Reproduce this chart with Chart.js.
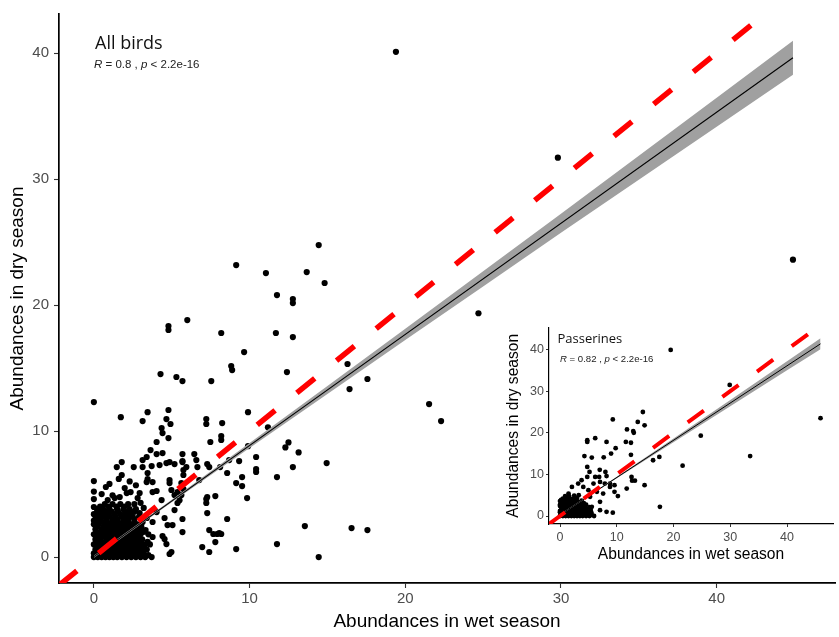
<!DOCTYPE html>
<html>
<head>
<meta charset="utf-8">
<script src="https://cdn.jsdelivr.net/npm/chart.js@4.4.1/dist/chart.umd.min.js"></script>
<style>
html,body{margin:0;padding:0;background:#fff;}
#wrap{position:relative;width:839px;height:637px;overflow:hidden;background:#fff;}
canvas{position:absolute;}
#main{left:0;top:0;width:839px;height:637px;}
#inset{left:495px;top:318px;width:344px;height:250px;}
.lbl{position:absolute;white-space:nowrap;line-height:1;color:#111;}
.big{font-family:"Open Sans","Noto Sans",sans-serif;}
.stat{font-family:"Liberation Sans",Arial,sans-serif;color:#222;}
</style>
</head>
<body>
<div id="wrap">
<canvas id="main" width="839" height="637"></canvas>
<canvas id="inset" width="344" height="250"></canvas>
<div class="lbl big" style="left:95px;top:33px;font-size:18px;">All birds</div>
<div class="lbl stat" style="left:94px;top:58.6px;font-size:11.5px;"><i>R</i> = 0.8 , <i>p</i> &lt; 2.2e-16</div>
<div class="lbl big" style="left:557.5px;top:332px;font-size:13px;">Passerines</div>
<div class="lbl stat" style="left:560px;top:353.6px;font-size:9.6px;"><i>R</i> = 0.82 , <i>p</i> &lt; 2.2e-16</div>
</div>
<script>
// ---------- DATA ----------
const xTickValues = [0, 10, 20, 30, 40];
const yTickValues = [0, 10, 20, 30, 40];

const mainXRange = [-2.24, 47.6];
const mainYRange = [-2.06, 43.1];
const insetXRange = [-1.94, 48.1];
const insetYRange = [-1.92, 45.3];

// All birds: [wet season, dry season]
const allBirds = [
[19.4,40.1],[29.8,31.7],[44.9,23.6],[14.44,24.76],[9.14,23.17],[11.05,22.54],[13.67,22.62],[14.82,21.75],[11.76,20.79],[12.78,20.48],[12.78,20.16],[24.7,19.35],[6.0,18.81],[4.79,18.33],[4.79,18.02],[8.18,17.78],[11.69,17.78],[12.78,17.46],[9.65,16.27],[16.29,15.32],[8.82,15.16],[8.88,14.84],[4.28,14.52],[5.3,14.29],[12.4,14.68],[17.57,14.13],[16.42,13.33],[5.69,13.97],[7.54,13.97],[21.53,12.14],[22.3,10.79],
[0,12.3],[1.73,11.1],[3.45,11.5],[3.13,10.79],[4.79,11.67],[4.66,10.95],[4.92,10.56],[4.35,10.24],[4.41,9.84],[4.79,9.44],[4.03,9.13],[3.64,8.49],[4.03,8.17],[4.41,8.25],[3.39,7.94],[3.13,7.7],
[9.9,11.5],[7.22,10.95],[7.22,10.56],[8.24,10.63],[11.18,10.3],[8.18,9.6],[8.18,9.29],[7.48,9.13],[12.5,9.1],[12.3,8.7],[13.15,8.3],[14.95,7.46],[5.69,8.17],[6.45,8.17],[6.58,7.7],[9.9,8.8],[10.42,7.94],[9.33,7.62],[5.69,7.62],[5.94,7.14],[7.28,7.38],[7.41,7.14],[6.65,7.14],[8.11,7.14],[8.69,7.7],[12.78,7.14],[10.42,6.98],[10.42,6.75],[5.75,6.51],[8.56,6.67],[9.52,6.35],[11.76,6.35],[9.14,5.87],[9.52,5.63],[5.62,5.87],[6.77,6.11],[5.75,5.4],[7.8,4.84],[7.22,4.6],[7.22,4.29],[9.84,4.68],[7.28,3.49],[8.56,3.02],[5.69,3.02],[7.41,2.14],[7.67,1.83],[7.92,1.83],[8.18,1.83],[5.69,1.98],[7.8,1.19],[6.96,0.79],[7.41,0.4],[9.14,0.63],[11.76,1.03],[13.55,2.46],[16.55,2.3],[17.57,2.14],[14.44,0],[7.28,4.76],[8.05,1.9],
[1.79,7.54],[1.47,7.14],[2.56,7.14],[3.13,7.14],[3.71,7.22],[4.22,7.3],[4.66,7.46],[5.18,7.38],[1.79,6.51],[3.45,6.67],[3.45,6.19],[3.77,5.95],[4.86,7.54],[5.69,7.54],[5.75,6.9],[4.86,6.11],[4.86,5.87],[4.03,5.24],[4.35,4.52],[5.18,4.92],[5.37,5.16],[2.94,5.08],[1.98,5.48],[2.11,5.08],[1.66,4.76],[1.34,4.68],[0.89,4.52],[0,3.97],[0.19,3.49],[2.81,4.68],[2.36,5.16],[0,6.03],[0.77,5.56],[3.39,5.95],[3.77,5.16],[4.98,5.32],[5.62,4.92],[5.37,4.29],[5.18,3.73],[4.54,3.1],[4.73,2.54],[5.05,2.54],[4.41,1.67],[4.54,1.43],[4.66,1.03],[4.98,0.4],[4.86,0.24],[3.71,0],[3.13,0.71],[3.77,1.59],[3.32,2.14],[3.77,2.78],[3.13,2.78],[4.03,3.57],[2.94,3.49],[5.5,4.5],
[0,0],[0.25,0],[0.5,0],[0.75,0],[1,0],[1.25,0],[1.5,0],[1.8,0],[2.1,0],[2.4,0],[2.7,0],[3,0],[3.3,0],
[0,0.3],[0.3,0.3],[0.6,0.3],[0.9,0.3],[1.2,0.3],[1.5,0.3],[1.8,0.3],[2.1,0.3],[2.5,0.3],[2.8,0.3],[3.2,0.3],
[0.1,0.6],[0.4,0.6],[0.7,0.6],[1,0.6],[1.3,0.6],[1.6,0.6],[2,0.6],[2.3,0.6],[2.6,0.6],[3,0.6],[3.4,0.6],
[0,1],[0.3,1],[0.6,1],[0.9,1],[1.2,1],[1.5,1],[1.9,1],[2.2,1],[2.5,1],[2.9,1],[3.3,1],[3.6,1],
[0.1,1.4],[0.4,1.4],[0.8,1.4],[1.1,1.4],[1.4,1.4],[1.7,1.4],[2,1.4],[2.4,1.4],[2.7,1.4],[3.1,1.4],
[0,1.8],[0.3,1.8],[0.6,1.8],[1,1.8],[1.3,1.8],[1.6,1.8],[2,1.8],[2.3,1.8],[2.6,1.8],[3,1.8],[3.5,1.8],
[0.1,2.2],[0.5,2.2],[0.8,2.2],[1.1,2.2],[1.5,2.2],[1.8,2.2],[2.1,2.2],[2.5,2.2],[2.9,2.2],
[0,2.6],[0.3,2.6],[0.7,2.6],[1,2.6],[1.4,2.6],[1.7,2.6],[2,2.6],[2.4,2.6],[2.8,2.6],
[0.1,3],[0.4,3],[0.8,3],[1.2,3],[1.5,3],[1.9,3],[2.2,3],[2.6,3],[3.4,3.1],
[0,3.4],[0.5,3.4],[0.9,3.4],[1.3,3.4],[1.7,3.4],[2,3.4],[2.4,3.4],
[0.2,3.8],[0.6,3.8],[1,3.8],[1.5,3.8],[1.9,3.8],[2.3,3.8],[2.7,3.8],[3.2,3.9],
[0.7,4.2],[1.2,4.2],[1.7,4.2],[2.2,4.2],[2.6,4.2],
[0,2.9],[0,4.6],[0.5,5.0],[1.0,5.8],[1.6,6.2],[2.3,6.0],[2.7,5.7],[1.2,4.9],[3.0,4.3],[0,5.2],
[0.15,0.15],[0.45,0.15],[0.75,0.15],[1.05,0.15],[1.35,0.15],[1.65,0.15],[1.95,0.15],[2.25,0.15],[2.55,0.15],[2.85,0.15],[3.15,0.15],[3.5,0.15],
[0.15,0.45],[0.45,0.45],[0.75,0.45],[1.05,0.45],[1.35,0.45],[1.65,0.45],[1.95,0.45],[2.3,0.45],[2.65,0.45],[3.0,0.45],
[0.2,0.8],[0.5,0.8],[0.85,0.8],[1.15,0.8],[1.45,0.8],[1.75,0.8],[2.1,0.8],[2.4,0.8],[2.75,0.8],[3.2,0.8],
[0.15,1.2],[0.45,1.2],[0.75,1.2],[1.05,1.2],[1.35,1.2],[1.7,1.2],[2.05,1.2],[2.35,1.2],[2.7,1.2],[3.0,1.2],[3.45,1.2],
[0.2,1.6],[0.5,1.6],[0.85,1.6],[1.2,1.6],[1.5,1.6],[1.85,1.6],[2.2,1.6],[2.5,1.6],[2.85,1.6],
[0.15,2.0],[0.45,2.0],[0.75,2.0],[1.05,2.0],[1.35,2.0],[1.65,2.0],[1.95,2.0],[2.3,2.0],[2.7,2.0],[3.2,2.0],
[0.2,2.4],[0.6,2.4],[0.9,2.4],[1.25,2.4],[1.6,2.4],[1.95,2.4],[2.25,2.4],[2.6,2.4],[3.05,2.4],
[0.15,2.8],[0.5,2.8],[0.85,2.8],[1.2,2.8],[1.55,2.8],[1.9,2.8],[2.2,2.8],[2.6,2.8],
[0.25,3.2],[0.6,3.2],[1.0,3.2],[1.4,3.2],[1.8,3.2],[2.15,3.2],[2.5,3.2],[2.9,3.2],
[0.3,3.6],[0.75,3.6],[1.15,3.6],[1.55,3.6],[2.2,3.6],[2.6,3.6],
[0.4,4.0],[0.95,4.0],[1.45,4.0],[1.95,4.0]
];

// Passerines: [wet season, dry season]
const passerines = [
[19.5,39.9],[29.9,31.5],[45.9,23.5],[33.5,14.4],[24.8,19.3],[21.6,12.1],[17.6,2.2],[17.5,14.2],[16.4,13.4],[14.9,7.4],[13.2,8.5],[12.6,9.4],[11.75,6.6],[14.6,25.0],[14.9,21.8],[13.7,22.6],[12.9,20.4],[13.0,20.0],[11.8,20.8],[11.6,17.8],[12.5,17.6],[12.5,14.7],[9.3,23.2],[9.8,16.3],[9.0,15.0],[8.2,17.8],[7.7,14.1],[6.2,18.7],[4.8,18.2],[4.8,17.8],[4.3,14.4],[5.6,14.05],[7.0,11.1],[9.3,0.8],[8.0,10.6],[8.2,9.6],[8.8,7.8],[9.6,7.4],[9.6,5.8],[10.2,4.8],[12.7,8.5],[6.9,9.4],
[4.8,11.8],[5.2,10.6],[4.8,9.4],[3.8,8.6],[3.2,7.8],[6.2,9.4],[7.05,8.2],[5.9,7.8],[7.9,7.8],[8.8,7.0],[4.1,7.0],[5.0,6.2],[6.5,5.8],[7.6,5.4],[5.3,4.6],[7.05,3.4],[5.6,2.2],[7.05,1.4],[8.2,1.0],[4.4,1.0],[2.1,7.0],[1.5,5.4],
[0,0],[0.5,0],[1,0],[1.5,0],[2,0],[2.5,0],[3,0],[3.5,0],[4,0],[4.6,0],[5.2,0],[6.0,0],
[0.3,0.6],[0.8,0.6],[1.3,0.6],[1.8,0.6],[2.3,0.6],[2.8,0.6],[3.3,0.6],[3.9,0.6],[4.5,0.6],
[0,1.2],[0.5,1.2],[1,1.2],[1.5,1.2],[2,1.2],[2.5,1.2],[3,1.2],[3.6,1.2],[4.3,1.2],
[0.3,1.8],[0.8,1.8],[1.3,1.8],[1.8,1.8],[2.4,1.8],[3,1.8],[3.6,1.8],[4.4,1.9],
[0,2.4],[0.6,2.4],[1.1,2.4],[1.6,2.4],[2.1,2.4],[2.7,2.4],[3.3,2.4],[4,2.4],
[0.3,3],[0.9,3],[1.4,3],[2,3],[2.6,3],[3.2,3],[4.2,3.1],
[0,3.6],[0.6,3.6],[1.2,3.6],[1.8,3.6],[2.4,3.6],[3,3.6],[3.8,3.7],
[0.5,4.2],[1.1,4.2],[1.7,4.2],[2.3,4.2],[3,4.3],
[0.9,4.8],[1.6,4.8],[2.5,4.9],[3.3,5.0],
[0.25,0.3],[0.75,0.3],[1.25,0.3],[1.75,0.3],[2.25,0.3],[2.75,0.3],[3.25,0.3],[3.75,0.3],[4.3,0.3],[5.0,0.3],[5.6,0.3],
[0,0.9],[0.5,0.9],[1,0.9],[1.5,0.9],[2,0.9],[2.5,0.9],[3,0.9],[3.5,0.9],[4.1,0.9],[4.9,0.9],[5.5,0.9],
[0.25,1.5],[0.75,1.5],[1.25,1.5],[1.75,1.5],[2.25,1.5],[2.75,1.5],[3.3,1.5],[3.9,1.5],[4.7,1.5],[5.4,1.5],
[0.3,2.1],[0.9,2.1],[1.4,2.1],[1.9,2.1],[2.4,2.1],[3,2.1],[3.7,2.1],[4.5,2.1],[5.2,2.1],
[0,2.7],[0.6,2.7],[1.2,2.7],[1.7,2.7],[2.3,2.7],[2.9,2.7],[3.6,2.7],[4.6,2.7],
[0.3,3.3],[0.9,3.3],[1.5,3.3],[2.1,3.3],[2.7,3.3],[3.4,3.3],
[0.2,3.9],[0.8,3.9],[1.4,3.9],[2,3.9],[2.7,3.9]
];

// Linear fits and confidence bands
const mainFitX = [0, 44.9];
const mainFitY = [0.03, 39.63];
const mainBandX = [0, 5, 10, 15, 20, 25, 30, 35, 40, 44.9];
const mainBandHigh = [0.12, 4.54, 9.05, 13.58, 18.12, 22.68, 27.24, 31.85, 36.46, 40.98];
const mainBandLow = [-0.06, 4.34, 8.65, 12.94, 17.22, 21.48, 25.74, 29.95, 34.16, 38.28];

const passFitX = [0, 45.9];
const passFitY = [0.3, 41.38];
const passBandX = [0, 10, 20, 30, 40, 45.9];
const passBandHigh = [0.42, 9.45, 18.65, 27.9, 37.2, 42.7];
const passBandLow = [0.18, 9.05, 17.75, 26.4, 35.0, 40.06];

// ---------- CHARTS ----------
const FONT = '"Liberation Sans", Arial, sans-serif';
function pairsXY(p){ return p.map(v => ({x: v[0], y: v[1]})); }
function zipXY(xs, ys){ return xs.map((x, i) => ({x: x, y: ys[i]})); }

function build(canvas, o){
  return new Chart(canvas, {
    type: 'line',
    data: { datasets: [
      { data: zipXY(o.xRange, o.xRange), borderColor: '#ff0000', borderWidth: o.redW, borderDash: o.dash,
        borderCapStyle: 'butt', pointRadius: 0, fill: false, order: 0, clip: 0 },
      { data: zipXY(o.fitX, o.fitY), borderColor: '#000', borderWidth: o.fitW, pointRadius: 0, fill: false, order: 1, clip: 0 },
      { data: zipXY(o.bandX, o.bandHigh), borderWidth: 0, borderColor: 'rgba(0,0,0,0)', pointRadius: 0,
        fill: '+1', backgroundColor: '#a0a0a0', order: 2, clip: 0 },
      { data: zipXY(o.bandX, o.bandLow), borderWidth: 0, borderColor: 'rgba(0,0,0,0)', pointRadius: 0, fill: false, order: 3, clip: 0 },
      { data: pairsXY(o.points), showLine: false, pointRadius: o.ptR, pointBackgroundColor: '#000',
        pointBorderWidth: 0, pointBorderColor: '#000', order: 4, clip: 6 }
    ]},
    options: {
      responsive: false, animation: false, devicePixelRatio: 1,
      layout: { padding: { top: o.padTop, right: o.padRight, left: 0, bottom: 0 } },
      plugins: { legend: { display: false }, tooltip: { enabled: false } },
      elements: { line: { tension: 0 } },
      scales: {
        x: {
          type: 'linear', min: o.xRange[0], max: o.xRange[1],
          afterFit: s => { s.height = o.xH; },
          afterBuildTicks: s => { s.ticks = xTickValues.map(v => ({value: v})); },
          grid: { display: true, drawOnChartArea: false, drawTicks: true, tickLength: o.tickLen, tickColor: '#333', tickWidth: o.tickW },
          border: { display: true, color: '#000', width: o.axisW },
          ticks: { color: '#4d4d4d', font: { family: FONT, size: o.tickSize }, padding: o.xTickPad, maxRotation: 0, autoSkip: false },
          title: { display: true, text: 'Abundances in wet season', color: '#000', font: { family: FONT, size: o.titleSize }, padding: { top: 0, bottom: o.xTitlePad } }
        },
        y: {
          type: 'linear', min: o.yRange[0], max: o.yRange[1],
          afterFit: s => { s.width = o.yW; },
          afterBuildTicks: s => { s.ticks = yTickValues.map(v => ({value: v})); },
          grid: { display: true, drawOnChartArea: false, drawTicks: true, tickLength: o.tickLen, tickColor: '#333', tickWidth: o.tickW },
          border: { display: true, color: '#000', width: o.axisW },
          ticks: { color: '#4d4d4d', font: { family: FONT, size: o.tickSize }, padding: o.yTickPad, autoSkip: false },
          title: { display: true, text: 'Abundances in dry season', color: '#000', font: { family: FONT, size: o.titleSize }, padding: { top: o.yTitlePad, bottom: 0 } }
        }
      }
    }
  });
}

build(document.getElementById('main'), {
  xRange: mainXRange, yRange: mainYRange, points: allBirds,
  fitX: mainFitX, fitY: mainFitY, bandX: mainBandX, bandHigh: mainBandHigh, bandLow: mainBandLow,
  redW: 5.5, dash: [23, 28], fitW: 1.1, ptR: 3.1,
  padTop: 14, padRight: 0, xH: 54, yW: 59,
  tickLen: 5, tickW: 1.1, axisW: 1.7, tickSize: 15, xTickPad: 2, yTickPad: 5,
  titleSize: 19, xTitlePad: 4.2, yTitlePad: 6.5
});

build(document.getElementById('inset'), {
  xRange: insetXRange, yRange: insetYRange, points: passerines,
  fitX: passFitX, fitY: passFitY, bandX: passBandX, bandHigh: passBandHigh, bandLow: passBandLow,
  redW: 4, dash: [20, 23], fitW: 1, ptR: 2.4,
  padTop: 9, padRight: 6, xH: 44, yW: 54,
  tickLen: 3, tickW: 1, axisW: 1.2, tickSize: 12.5, xTickPad: 3, yTickPad: 2,
  titleSize: 15.6, xTitlePad: 4, yTitlePad: 9.5
});
</script>
</body>
</html>
